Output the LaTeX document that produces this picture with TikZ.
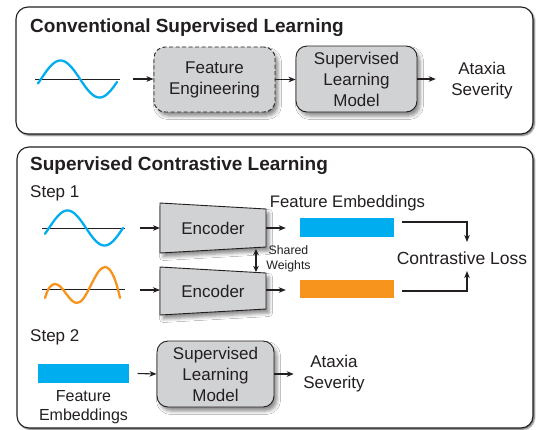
\documentclass[tikz,border=0pt]{standalone}
\usepackage{fontspec}
\setmainfont{Liberation Sans}
\usetikzlibrary{arrows.meta,shadows.blur,calc}
\definecolor{wblue}{HTML}{00AEEF}
\definecolor{worange}{HTML}{F7941D}
\definecolor{boxgray}{HTML}{D1D2D4}
\definecolor{ink}{HTML}{231F20}
\begin{document}
\begin{tikzpicture}[x=1pt,y=-1pt,
  panel/.style={draw=ink, line width=1.1pt, rounded corners=12pt, fill=white,
    blur shadow={shadow xshift=1.5pt, shadow yshift=-1.5pt, shadow blur radius=1.5pt, shadow blur steps=4, shadow opacity=60}},
  paneltitle/.style={anchor=base west, inner sep=0pt, text=ink, font=\fontsize{19}{22}\selectfont\bfseries},
  lbl/.style={text=ink, align=center, font=\fontsize{17}{21}\selectfont},
  smalllbl/.style={text=ink, align=center, font=\fontsize{12.3}{15}\selectfont},
  procbox/.style={draw=ink, line width=0.9pt, fill=boxgray, rounded corners=11pt, align=center,
    text=ink, font=\fontsize{17}{21}\selectfont, inner sep=0pt,
    blur shadow={shadow xshift=3pt, shadow yshift=-4pt, shadow blur radius=3.5pt, shadow opacity=45}},
  encshape/.style={draw=ink, line width=0.9pt, fill=boxgray,
    blur shadow={shadow xshift=3pt, shadow yshift=-4pt, shadow blur radius=3.5pt, shadow opacity=45}},
  embbar/.style={inner sep=0pt, minimum width=94pt, minimum height=19pt},
  arr/.style={draw=ink, line width=1.1pt, -{Stealth[length=7pt,width=5.5pt,inset=2pt]}},
  dblarr/.style={draw=ink, line width=1.3pt, {Stealth[length=6pt,width=5.5pt,inset=1.5pt]}-{Stealth[length=6pt,width=5.5pt,inset=1.5pt]}},
  axisline/.style={draw=ink, line width=0.9pt},
  wave/.style={line width=2.3pt, line cap=round}
]
\useasboundingbox (0,0) rectangle (540,429);

% ---------------- Top panel ----------------
\path[panel] (16,7) rectangle (533,134);
\node[paneltitle] (t1) at (30,32.5) {Conventional Supervised Learning};

\draw[axisline] (35,79) -- (120,79);
\draw[wave, wblue] plot[domain=38:117, samples=80, smooth] (\x, {79-18.5*sin(4.615*(\x-41))});
\coordinate (w1) at (133,79);

\node[procbox, dashed, dash pattern=on 4pt off 2.5pt, minimum width=121pt, minimum height=65pt] (fe) at (214.5,79.5) {Feature\\Engineering};
\node[procbox, minimum width=121pt, minimum height=66pt] (slm1) at (356.5,79) {Supervised\\Learning\\Model};
\node[lbl] (ax1) at (482,80.5) {Ataxia\\Severity};

\draw[arr] (w1) -- (w1 -| fe.west);
\draw[arr] (fe.east) -- (fe.east -| slm1.west);
\draw[arr] (slm1.east) -- ([xshift=-12pt]ax1.west |- slm1.east);

% ---------------- Bottom panel ----------------
\path[panel] (17,147) rectangle (533,428);
\node[paneltitle] (t2) at (30,170) {Supervised Contrastive Learning};
\node[lbl, anchor=base west, inner sep=0pt] (s1) at (30,197) {Step 1};

% waves
\draw[axisline] (42,228) -- (125,228);
\draw[wave, wblue] plot[domain=45:123, samples=80, smooth] (\x, {228-17.5*sin(4.865*(\x-49))});
\draw[axisline] (42,289) -- (125,289);
\draw[wave, worange] (45,298) .. controls (48,288) and (51,284) .. (55,284)
  .. controls (63,284) and (69,303) .. (77,303)
  .. controls (87,303) and (95,267) .. (105,267)
  .. controls (112,267) and (117,284) .. (120,298);
\coordinate (w2) at (140,228);
\coordinate (w3) at (140,290);

% encoders
\path[encshape] (160,203) -- (266,209) -- (266,247) -- (160,253) -- cycle;
\path[encshape] (160,267) -- (266,273) -- (266,309) -- (160,315) -- cycle;
\node[lbl] (enc1) at (213,228) {Encoder};
\node[lbl] (enc2) at (213,291) {Encoder};
\coordinate (enc1w) at (160,228);
\coordinate (enc1e) at (266,228);
\coordinate (enc2w) at (160,290);
\coordinate (enc2e) at (266,290);
\coordinate (sw1) at (256,249);
\coordinate (sw2) at (256,272);

\draw[arr] (w2) -- (enc1w);
\draw[arr] (w3) -- (enc2w);
\draw[dblarr] (sw1) -- (sw2);
\node[smalllbl] (sw) at (288.5,259) {Shared\\Weights};

% embeddings
\node[lbl, anchor=base, font=\fontsize{16.7}{21}\selectfont] (femb) at (347.5,207) {Feature Embeddings};
\node[embbar, fill=wblue] (bar1) at (347,227.5) {};
\node[embbar, fill=worange, minimum height=18pt] (bar2) at (347,289) {};
\draw[arr] (enc1e) -- ([xshift=-14pt]bar1.west |- enc1e);
\draw[arr] (enc2e) -- ([xshift=-14pt]bar2.west |- enc2e);

\node[lbl, anchor=base, font=\fontsize{17.5}{21}\selectfont] (loss) at (462,264) {Contrastive Loss};
\draw[arr] ($(bar1.east)+(8,-5.5)$) -| ($(loss.base)+(5,-22)$);
\draw[arr] ($(bar2.east)+(8,2)$) -| ($(loss.base)+(5,7)$);

% step 2
\node[lbl, anchor=base west, inner sep=0pt] (s2) at (30,341) {Step 2};
\node[embbar, fill=wblue, minimum width=91pt] (bar3) at (83.5,373.5) {};
\node[lbl, font=\fontsize{16}{19}\selectfont] (fe3) at (83.5,407) {Feature\\Embeddings};
\node[procbox, minimum width=117pt, minimum height=66pt] (slm2) at (215.5,374) {Supervised\\Learning\\Model};
\node[lbl] (ax2) at (334,374) {Ataxia\\Severity};
\draw[arr] ($(bar3.east)+(8.5,0)$) -- (slm2.west);
\draw[arr] (slm2.east) -- ([xshift=-6pt]ax2.west |- slm2.east);
\end{tikzpicture}
\end{document}
